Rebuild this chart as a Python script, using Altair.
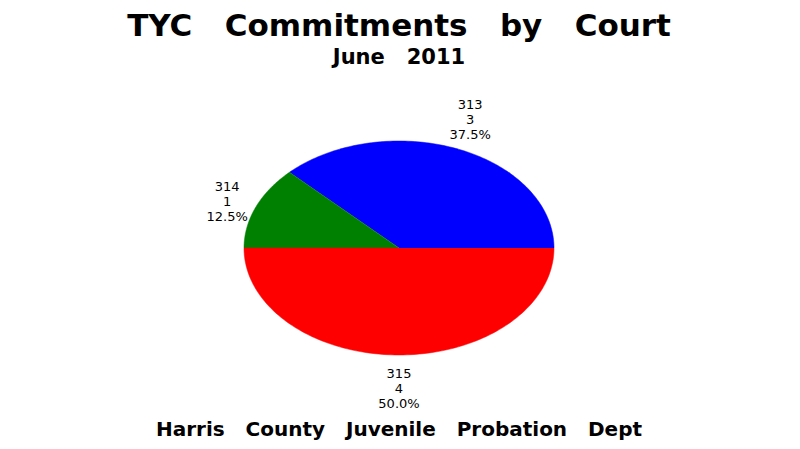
import altair as alt
import pandas as pd

courts = ["313", "314", "315"]
counts = [3, 1, 4]
colors = ["#0000FF", "#008000", "#FF0000"]

SP = "\u00a0\u00a0\u00a0"
title = SP.join(["TYC", "Commitments", "by", "Court"])
subtitle = SP.join(["June", "2011"])
footer = SP.join(["Harris", "County", "Juvenile", "Probation", "Dept"])

W, H = 310, 214
df = pd.DataFrame({"court": courts, "count": counts, "order": list(range(len(courts)))})

color_scale = alt.Scale(domain=courts, range=colors)
xs = alt.Scale(domain=[-1, 1], nice=False, zero=False)
ys = alt.Scale(domain=[-1, 1], nice=False, zero=False)

N = 120
base = alt.Chart(df).transform_joinaggregate(
    total="sum(count)"
).transform_window(
    cum="sum(count)", sort=[alt.SortField("order")], frame=[None, 0]
).transform_calculate(
    a0="2*PI*(datum.cum - datum.count)/datum.total",
    a1="2*PI*datum.cum/datum.total",
    pct="datum.count/datum.total",
)

wedges = base.transform_calculate(
    idx=f"sequence(0, {N + 2})"
).transform_flatten(["idx"]).transform_calculate(
    ang=f"datum.a0 + (datum.idx-1)/{N}*(datum.a1-datum.a0)",
    px="datum.idx==0 ? 0 : cos(datum.ang)",
    py="datum.idx==0 ? 0 : sin(datum.ang)",
).mark_line(strokeWidth=0.5).encode(
    x=alt.X("px:Q", scale=xs, axis=None),
    y=alt.Y("py:Q", scale=ys, axis=None),
    order="idx:Q",
    detail="court:N",
    fill=alt.Fill("court:N", scale=color_scale, legend=None),
    stroke=alt.Stroke("court:N", scale=color_scale, legend=None),
)

labels = base.transform_calculate(
    mid="(datum.a0+datum.a1)/2",
    lx="cos(datum.mid)*1.2",
    ly="sin(datum.mid)*(1+0.32*abs(sin(datum.mid)))",
    label="datum.court + '\\n' + datum.count + '\\n' + format(datum.pct, '.1%')",
).mark_text(
    lineBreak="\n", font="DejaVu Sans", fontSize=13, lineHeight=15, dy=-15,
    baseline="middle", align="center", color="black"
).encode(
    x=alt.X("lx:Q", scale=xs, axis=None),
    y=alt.Y("ly:Q", scale=ys, axis=None),
    text="label:N",
)

one = pd.DataFrame({"k": [0]})
def txt(s, size, ypix):
    return alt.Chart(one).mark_text(
        font="DejaVu Sans", fontWeight="bold", fontSize=size,
        align="center", baseline="alphabetic", color="black"
    ).encode(x=alt.value(W / 2), y=alt.value(ypix - 141), text=alt.value(s))

chart = alt.layer(
    wedges, labels,
    txt(title, 31, 36), txt(subtitle, 21, 64), txt(footer, 20, 436),
).properties(
    width=W, height=H,
    autosize=alt.AutoSizeParams(type="none"),
    padding={"left": 236, "top": 133, "right": 238, "bottom": 86},
    background="white",
).configure_view(stroke=None)

chart.save("out.html", embed_options={"renderer": "svg", "actions": False})
